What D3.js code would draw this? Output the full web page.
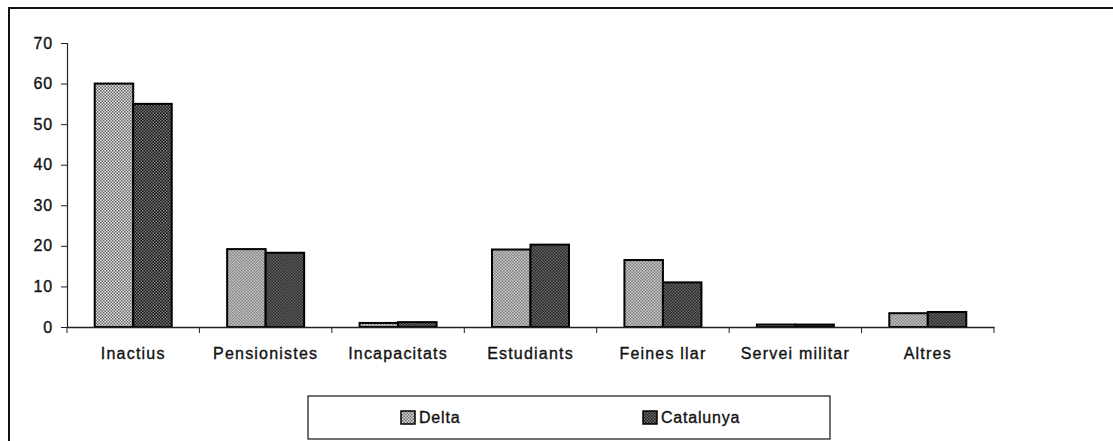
<!DOCTYPE html>
<html>
<head>
<meta charset="utf-8">
<script src="https://cdn.jsdelivr.net/npm/d3@7"></script>
<style>
  html, body { margin: 0; padding: 0; background: #fff; }
  svg { display: block; font-family: "Liberation Sans", Arial, sans-serif; }
  svg text { stroke: #111; stroke-width: 0.35px; }
</style>
</head>
<body>
<svg id="chart" width="1113" height="441"></svg>
<script>
const categories = ["Inactius", "Pensionistes", "Incapacitats", "Estudiants", "Feines llar", "Servei militar", "Altres"];
const seriesNames = ["Delta", "Catalunya"];
const deltaValues = [60, 19.2, 1.0, 19.1, 16.5, 0.6, 3.4];
const catalunyaValues = [55, 18.3, 1.2, 20.3, 11, 0.6, 3.7];
const yTicks = [0, 10, 20, 30, 40, 50, 60, 70];

const svg = d3.select("#chart");

// fill patterns (scanned halftone look)
const defs = svg.append("defs");
function checker(id, bg, fg) {
    const p = defs.append("pattern")
        .attr("id", id)
        .attr("width", 3).attr("height", 3)
        .attr("patternUnits", "userSpaceOnUse");
    p.append("rect").attr("width", 3).attr("height", 3).attr("fill", bg);
    p.append("rect").attr("width", 1.5).attr("height", 1.5).attr("fill", fg);
    p.append("rect").attr("x", 1.5).attr("y", 1.5).attr("width", 1.5).attr("height", 1.5).attr("fill", fg);
}
checker("pDelta", "#e2e2e2", "#666");
checker("pCat", "#151515", "#7a7a7a");
const fills = {Delta: "url(#pDelta)", Catalunya: "url(#pCat)"};

// outer frame
svg.append("path")
    .attr("d", "M9,441 V8 H1113")
    .attr("fill", "none")
    .attr("stroke", "#111")
    .attr("stroke-width", 2);

const x0 = d3.scaleBand().domain(categories).range([67, 994]).paddingInner(0).paddingOuter(0);
const x1 = d3.scaleBand().domain(seriesNames).range([0, x0.bandwidth()]).paddingInner(0).paddingOuter(0.72);
const y = d3.scaleLinear().domain([0, 70]).range([327, 43]);

const rows = categories.map((c, i) => ({cat: c, values: [deltaValues[i], catalunyaValues[i]]}));

// bars
const groups = svg.append("g").selectAll("g")
    .data(rows)
    .enter().append("g")
    .attr("transform", d => "translate(" + x0(d.cat) + ",0)");

groups.selectAll("rect")
    .data(d => d.values.map((v, j) => ({name: seriesNames[j], value: v})))
    .enter().append("rect")
    .attr("x", d => x1(d.name))
    .attr("y", d => y(d.value))
    .attr("width", x1.bandwidth())
    .attr("height", d => y(0) - y(d.value))
    .attr("fill", d => fills[d.name])
    .attr("stroke", "#000")
    .attr("stroke-width", 2);

const labelFont = "'Liberation Sans', Arial, sans-serif";

// y axis
const yAxis = svg.append("g")
    .attr("transform", "translate(67,0)")
    .call(d3.axisLeft(y).tickValues(yTicks).tickSize(6).tickPadding(8).tickFormat(d3.format("d")));
yAxis.select(".domain").attr("stroke", "#222").attr("stroke-width", 1.2);
yAxis.selectAll(".tick line").attr("stroke", "#222");
yAxis.selectAll("text").attr("font-size", 16).attr("fill", "#111")
    .attr("letter-spacing", 0.8)
    .attr("font-family", labelFont);

// x axis
const xAxis = svg.append("g")
    .attr("transform", "translate(0," + y(0) + ")")
    .call(d3.axisBottom(x0).tickSize(0).tickPadding(21));
xAxis.select(".domain").attr("stroke", "#222").attr("stroke-width", 1.5);
xAxis.selectAll("text").attr("font-size", 16).attr("fill", "#111")
    .attr("letter-spacing", 1.2)
    .attr("font-family", labelFont);
// category separators
svg.append("g").selectAll("line")
    .data(categories.concat(["end"]))
    .enter().append("line")
    .attr("x1", (d, i) => i < categories.length ? x0(d) : x0.range()[1])
    .attr("x2", (d, i) => i < categories.length ? x0(d) : x0.range()[1])
    .attr("y1", y(0))
    .attr("y2", y(0) + 6)
    .attr("stroke", "#222")
    .attr("stroke-width", 1);

// legend
const legend = svg.append("g");
legend.append("rect")
    .attr("x", 308).attr("y", 396)
    .attr("width", 522).attr("height", 43)
    .attr("fill", "#fff")
    .attr("stroke", "#111")
    .attr("stroke-width", 1.2);
const legendX = [401, 643];
seriesNames.forEach((name, i) => {
    legend.append("rect")
        .attr("x", legendX[i]).attr("y", 411)
        .attr("width", 14).attr("height", 13)
        .attr("fill", fills[name])
        .attr("stroke", "#000")
        .attr("stroke-width", 1.5);
    legend.append("text")
        .attr("x", legendX[i] + 18).attr("y", 423)
        .attr("font-size", 16)
        .attr("letter-spacing", 0.8)
        .attr("fill", "#111")
        .text(name);
});
</script>
</body>
</html>
